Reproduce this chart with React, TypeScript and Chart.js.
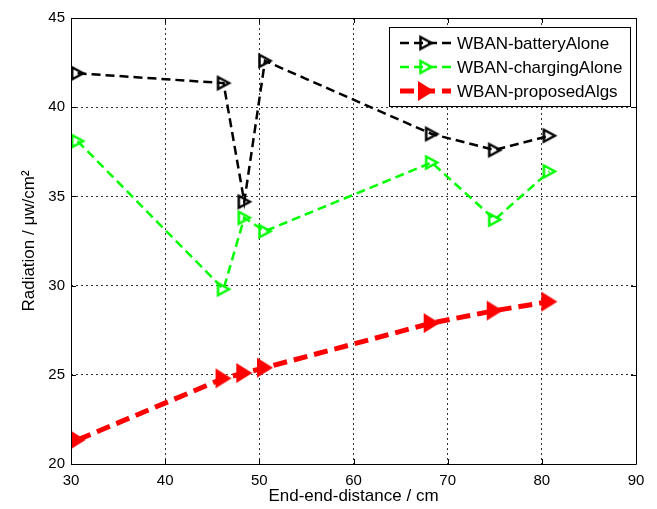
import React, { useEffect, useRef } from "react";
import { Chart, registerables } from "chart.js";
Chart.register(...registerables);

const distance = [30.7, 46.2, 48.4, 50.6, 68.3, 75.0, 80.8];
const batteryAlone = [41.9, 41.35, 34.7, 42.6, 38.5, 37.6, 38.4];
const chargingAlone = [38.1, 29.8, 33.8, 33.05, 36.9, 33.7, 36.4];
const proposedAlgs = [21.35, 24.8, 25.1, 25.4, 27.9, 28.6, 29.1];
const seriesLabels = ["WBAN-batteryAlone", "WBAN-chargingAlone", "WBAN-proposedAlgs"];
const xTicks = [30, 40, 50, 60, 70, 80, 90];
const yTicks = [20, 25, 30, 35, 40, 45];
const xTitle = "End-end-distance / cm";
const yTitle = "Radiation / \u03bcw/cm\u00b2";

const FONT = "'Liberation Sans', Arial, Helvetica, sans-serif";

function makeMarker(color: string, filled: boolean, w: number, h: number, lw: number) {
  const pad = lw + 1;
  const c = document.createElement("canvas");
  c.width = w + pad * 2;
  c.height = h + pad * 2;
  const ctx = c.getContext("2d")!;
  ctx.beginPath();
  ctx.moveTo(pad, pad);
  ctx.lineTo(pad, pad + h);
  ctx.lineTo(pad + w, pad + h / 2);
  ctx.closePath();
  if (filled) {
    ctx.fillStyle = color;
    ctx.fill();
  } else {
    ctx.lineWidth = lw;
    ctx.strokeStyle = color;
    ctx.lineJoin = "miter";
    ctx.stroke();
  }
  return c;
}

export default function App() {
  const ref = useRef<HTMLCanvasElement | null>(null);
  useEffect(() => {
    document.body.style.margin = "0";
    const markers = [
      makeMarker("#000000", false, 11, 12, 2.5),
      makeMarker("#00ff00", false, 11, 12, 2.5),
      makeMarker("#ff0000", true, 16, 20, 0),
    ];
    const colors = ["#000000", "#00ff00", "#ff0000"];
    const widths = [2.5, 2.5, 5];
    const dashes = [[9, 5], [9, 5], [14, 7]];
    const values = [batteryAlone, chargingAlone, proposedAlgs];

    const frame = {
      id: "frame",
      afterDraw(chart: any) {
        const { ctx, chartArea: a, scales } = chart;
        ctx.save();
        ctx.strokeStyle = "#000";
        ctx.lineWidth = 1;
        ctx.setLineDash([]);
        ctx.beginPath();
        ctx.rect(a.left + 0.5, a.top + 0.5, a.right - a.left, a.bottom - a.top);
        ctx.stroke();
        const tl = 5;
        ctx.beginPath();
        xTicks.forEach((v) => {
          const x = Math.round(scales.x.getPixelForValue(v)) + 0.5;
          ctx.moveTo(x, a.bottom);
          ctx.lineTo(x, a.bottom - tl);
          ctx.moveTo(x, a.top);
          ctx.lineTo(x, a.top + tl);
        });
        yTicks.forEach((v) => {
          const y = Math.round(scales.y.getPixelForValue(v)) + 0.5;
          ctx.moveTo(a.left, y);
          ctx.lineTo(a.left + tl, y);
          ctx.moveTo(a.right, y);
          ctx.lineTo(a.right - tl, y);
        });
        ctx.stroke();

        // legend
        const bx = 389.5, by = 27.5, bw = 241, bh = 79;
        ctx.fillStyle = "#fff";
        ctx.fillRect(bx, by, bw, bh);
        ctx.strokeRect(bx, by, bw, bh);
        const rows = [43, 67, 91];
        for (let i = 0; i < 3; i++) {
          const y = rows[i];
          ctx.beginPath();
          ctx.strokeStyle = colors[i];
          ctx.lineWidth = widths[i];
          ctx.setLineDash(dashes[i]);
          ctx.moveTo(400, y);
          ctx.lineTo(451, y);
          ctx.stroke();
          ctx.setLineDash([]);
          const m = markers[i];
          ctx.drawImage(m, 426 - m.width / 2, y - m.height / 2);
          ctx.fillStyle = "#000";
          ctx.font = `17px ${FONT}`;
          ctx.textBaseline = "middle";
          ctx.textAlign = "left";
          ctx.fillText(seriesLabels[i], 457, y + 1);
        }
        ctx.restore();
      },
    };

    const chart = new Chart(ref.current!, {
      type: "scatter",
      data: {
        datasets: values.map((vals, i) => ({
          label: seriesLabels[i],
          data: distance.map((x, j) => ({ x, y: vals[j] })),
          showLine: true,
          borderColor: colors[i],
          backgroundColor: colors[i],
          borderWidth: widths[i],
          borderDash: dashes[i],
          borderCapStyle: "butt",
          pointStyle: markers[i] as any,
          pointRadius: 8,
          tension: 0,
        })),
      },
      options: {
        animation: false,
        responsive: false,
        devicePixelRatio: 1,
        layout: { padding: { top: 18, right: 21, left: 0, bottom: 0 } },
        plugins: { legend: { display: false }, tooltip: { enabled: false } },
        scales: {
          x: {
            type: "linear",
            min: 30,
            max: 90,
            afterFit: (s: any) => { s.height = 45; },
            afterBuildTicks: (s: any) => { s.ticks = xTicks.map((v) => ({ value: v })); },
            grid: { color: "rgba(0,0,0,0.8)", lineWidth: 1, drawTicks: false, tickLength: 0 },
            border: { display: false, dash: [2, 3] } as any,
            ticks: { color: "#000", font: { family: FONT, size: 15 }, padding: 8, maxRotation: 0 },
            title: { display: true, text: xTitle, color: "#000", font: { family: FONT, size: 17 }, padding: { top: 0, bottom: 2 } },
          },
          y: {
            type: "linear",
            min: 20,
            max: 45,
            afterFit: (s: any) => { s.width = 71; },
            afterBuildTicks: (s: any) => { s.ticks = yTicks.map((v) => ({ value: v })); },
            grid: { color: "rgba(0,0,0,0.8)", lineWidth: 1, drawTicks: false, tickLength: 0 },
            border: { display: false, dash: [2, 3] } as any,
            ticks: { color: "#000", font: { family: FONT, size: 15 }, padding: 6 },
            title: { display: true, text: yTitle, color: "#000", font: { family: FONT, size: 17 }, padding: { top: 19, bottom: 0 } },
          },
        },
      },
      plugins: [frame],
    } as any);
    return () => chart.destroy();
  }, []);
  return <canvas ref={ref} width={657} height={509} style={{ display: "block" }} />;
}
